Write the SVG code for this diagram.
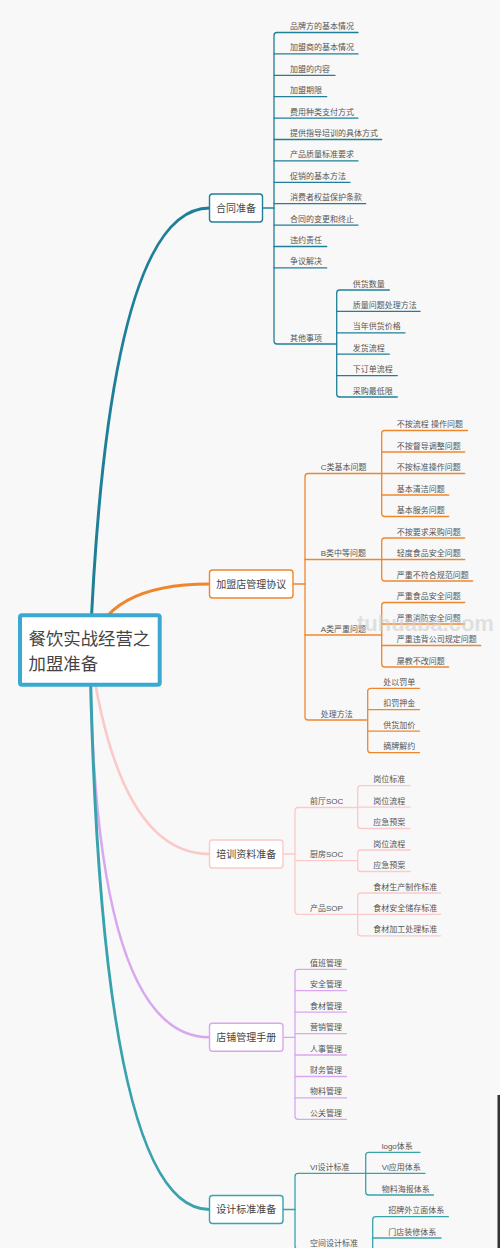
<svg xmlns="http://www.w3.org/2000/svg" width="500" height="1248" viewBox="0 0 500 1248">
<style>
text{font-family:"Liberation Sans","Noto Sans CJK SC",sans-serif;}
.leaf{font-size:8px;fill:#555;}
.nt{font-size:10px;fill:#444;text-anchor:middle;}
.rt{font-size:17.4px;fill:#444;}
.ln{fill:none;stroke-width:1.3;stroke-linecap:round;}
.cv{fill:none;stroke-linecap:round;}
.nb{fill:#fff;stroke-width:1.4;}
.c1{stroke:#1f7f99;} .c2{stroke:#f0862b;} .c3{stroke:#fcc9c9;} .c4{stroke:#d9a7ee;} .c5{stroke:#38a2ad;}
</style>
<rect width="500" height="1248" fill="#f8f8f8"/>
<rect x="497.5" y="1095" width="2.5" height="153" fill="#333"/>

<g id="connectors">
  <path class="cv c1" stroke-width="3" d="M90,650 Q108,208 209.5,208"/>
  <path class="cv c2" stroke-width="3" d="M90,650 Q104.7,584 209.5,584"/>
  <path class="cv c3" stroke-width="2.6" d="M90,650 Q118,854 209.5,854"/>
  <path class="cv c4" stroke-width="2.6" d="M90,650 Q93,1037.3 209.5,1037.3"/>
  <path class="cv c5" stroke-width="3" d="M90,650 Q100,1209.5 209.5,1209.5"/>

  <!-- branch 1 -->
  <g class="ln c1">
    <path d="M262.5,208 H274"/>
    <path d="M358,32.5 H277 Q274,32.5 274,35.5 V341 Q274,344 277,344 H336.7"/>
    <path d="M274,53.9 H358"/><path d="M274,75.3 H335"/><path d="M274,96.7 H326.7"/>
    <path d="M274,118.1 H358"/><path d="M274,139.5 H381.7"/><path d="M274,160.9 H358"/>
    <path d="M274,182.3 H350"/><path d="M274,203.7 H365.7"/><path d="M274,225.1 H358"/>
    <path d="M274,246.5 H326.7"/><path d="M274,267.9 H326.7"/>
    <path d="M389.3,290 H339.7 Q336.7,290 336.7,293 V394 Q336.7,397 339.7,397 H397.3"/>
    <path d="M336.7,311.4 H420"/><path d="M336.7,332.8 H405"/><path d="M336.7,354.2 H389.3"/><path d="M336.7,375.6 H397.3"/>
  </g>

  <!-- branch 2 -->
  <g class="ln c2">
    <path d="M293,584 H305"/>
    <path d="M381.7,473.5 H308 Q305,473.5 305,476.5 V717 Q305,720 308,720 H367.7"/>
    <path d="M305,559.5 H381.7"/><path d="M305,635 H381.7"/>
    <path d="M467.5,430.5 H384.7 Q381.7,430.5 381.7,433.5 V513.5 Q381.7,516.5 384.7,516.5 H448.7"/>
    <path d="M381.7,452 H464.7"/><path d="M381.7,473.5 H464.7"/><path d="M381.7,495 H448.7"/>
    <path d="M464.7,538 H384.7 Q381.7,538 381.7,541 V578 Q381.7,581 384.7,581 H472.7"/>
    <path d="M381.7,559.5 H464.7"/>
    <path d="M464.7,602.5 H384.7 Q381.7,602.5 381.7,605.5 V664 Q381.7,667 384.7,667 H448.7"/>
    <path d="M381.7,624 H464.7"/><path d="M381.7,645.5 H480.7"/>
    <path d="M419.5,688.3 H370.7 Q367.7,688.3 367.7,691.3 V749.7 Q367.7,752.7 370.7,752.7 H419.5"/>
    <path d="M367.7,709.7 H419.5"/><path d="M367.7,731.2 H419.5"/>
  </g>

  <!-- branch 3 -->
  <g class="ln c3">
    <path d="M283,854 H295"/>
    <path d="M357.7,807.5 H298 Q295,807.5 295,810.5 V911.3 Q295,914.3 298,914.3 H357.7"/>
    <path d="M295,860.7 H357.7"/>
    <path d="M410,785.7 H360.7 Q357.7,785.7 357.7,788.7 V825.5 Q357.7,828.5 360.7,828.5 H410"/>
    <path d="M357.7,807.2 H410"/>
    <path d="M410,850 H360.7 Q357.7,850 357.7,853 V868.5 Q357.7,871.5 360.7,871.5 H410"/>
    <path d="M440.5,893 H360.7 Q357.7,893 357.7,896 V932.8 Q357.7,935.8 360.7,935.8 H440.5"/>
    <path d="M357.7,914.4 H440.5"/>
  </g>

  <!-- branch 4 -->
  <g class="ln c4">
    <path d="M283,1037.3 H295"/>
    <path d="M346.5,969.3 H298 Q295,969.3 295,972.3 V1116.3 Q295,1119.3 298,1119.3 H346.5"/>
    <path d="M295,990.7 H346.5"/><path d="M295,1012.2 H346.5"/><path d="M295,1033.6 H346.5"/>
    <path d="M295,1055 H346.5"/><path d="M295,1076.5 H346.5"/><path d="M295,1097.9 H346.5"/>
  </g>

  <!-- branch 5 -->
  <g class="ln c5">
    <path d="M283,1209.5 H295"/>
    <path d="M365.7,1173.3 H298 Q295,1173.3 295,1176.3 V1246 Q295,1249 298,1249 H372.7"/>
    <path d="M420,1152.3 H368.7 Q365.7,1152.3 365.7,1155.3 V1192 Q365.7,1195 368.7,1195 H433.5"/>
    <path d="M365.7,1173.3 H425"/>
    <path d="M448.3,1216.7 H375.7 Q372.7,1216.7 372.7,1219.7 V1262"/>
    <path d="M372.7,1238 H441"/>
  </g>
</g>

<g id="root">
  <rect x="20" y="615.3" width="139.7" height="69.4" rx="2" fill="#fff" stroke="#3aa8d0" stroke-width="4"/>
  <text class="rt" x="28.5" y="645">餐饮实战经营之</text>
  <text class="rt" x="28.5" y="670">加盟准备</text>
</g>

<g id="n-hetong">
  <rect class="nb c1" x="209.5" y="194" width="53" height="28" rx="3"/>
  <text class="nt" x="236" y="211.5">合同准备</text>
  <g class="leaf">
    <text x="290" y="29">品牌方的基本情况</text>
    <text x="290" y="50.4">加盟商的基本情况</text>
    <text x="290" y="71.8">加盟的内容</text>
    <text x="290" y="93.2">加盟期限</text>
    <text x="290" y="114.6">费用种类支付方式</text>
    <text x="290" y="136">提供指导培训的具体方式</text>
    <text x="290" y="157.4">产品质量标准要求</text>
    <text x="290" y="178.8">促销的基本方法</text>
    <text x="290" y="200.2">消费者权益保护条款</text>
    <text x="290" y="221.6">合同的变更和终止</text>
    <text x="290" y="243">违约责任</text>
    <text x="290" y="264.4">争议解决</text>
    <text x="290" y="340.5">其他事项</text>
    <text x="352.7" y="286.5">供货数量</text>
    <text x="352.7" y="307.9">质量问题处理方法</text>
    <text x="352.7" y="329.3">当年供货价格</text>
    <text x="352.7" y="350.7">发货流程</text>
    <text x="352.7" y="372.1">下订单流程</text>
    <text x="352.7" y="393.5">采购最低限</text>
  </g>
</g>

<g id="n-guanli">
  <rect class="nb c2" x="209.5" y="570" width="83.5" height="28" rx="3"/>
  <text class="nt" x="251.2" y="587.5">加盟店管理协议</text>
  <g class="leaf">
    <text x="320.7" y="470">C类基本问题</text>
    <text x="320.7" y="556">B类中等问题</text>
    <text x="320.7" y="631.5">A类严重问题</text>
    <text x="320.7" y="716.5">处理方法</text>
    <text x="396.7" y="427">不按流程 操作问题</text>
    <text x="396.7" y="448.5">不按督导调整问题</text>
    <text x="396.7" y="470">不按标准操作问题</text>
    <text x="396.7" y="491.5">基本清洁问题</text>
    <text x="396.7" y="513">基本服务问题</text>
    <text x="396.7" y="534.5">不按要求采购问题</text>
    <text x="396.7" y="556">轻度食品安全问题</text>
    <text x="396.7" y="577.5">严重不符合规范问题</text>
    <text x="396.7" y="599">严重食品安全问题</text>
    <text x="396.7" y="620.5">严重消防安全问题</text>
    <text x="396.7" y="642">严重违背公司规定问题</text>
    <text x="396.7" y="663.5">屡教不改问题</text>
    <text x="383.3" y="684.8">处以罚单</text>
    <text x="383.3" y="706.2">扣罚押金</text>
    <text x="383.3" y="727.7">供货加价</text>
    <text x="383.3" y="749.2">摘牌解约</text>
  </g>
</g>

<g id="n-peixun">
  <rect class="nb c3" x="209.5" y="840" width="73.5" height="28" rx="3"/>
  <text class="nt" x="246.2" y="857.5">培训资料准备</text>
  <g class="leaf">
    <text x="310" y="804">前厅SOC</text>
    <text x="310" y="857.2">厨房SOC</text>
    <text x="310" y="910.8">产品SOP</text>
    <text x="373.3" y="782.2">岗位标准</text>
    <text x="373.3" y="803.7">岗位流程</text>
    <text x="373.3" y="825">应急预案</text>
    <text x="373.3" y="846.5">岗位流程</text>
    <text x="373.3" y="868">应急预案</text>
    <text x="373.3" y="889.5">食材生产制作标准</text>
    <text x="373.3" y="910.9">食材安全储存标准</text>
    <text x="373.3" y="932.3">食材加工处理标准</text>
  </g>
</g>

<g id="n-shouce">
  <rect class="nb c4" x="209.5" y="1023.3" width="73.5" height="28" rx="3"/>
  <text class="nt" x="246.2" y="1040.8">店铺管理手册</text>
  <g class="leaf">
    <text x="310" y="965.8">值班管理</text>
    <text x="310" y="987.2">安全管理</text>
    <text x="310" y="1008.7">食材管理</text>
    <text x="310" y="1030.1">营销管理</text>
    <text x="310" y="1051.5">人事管理</text>
    <text x="310" y="1073">财务管理</text>
    <text x="310" y="1094.4">物料管理</text>
    <text x="310" y="1115.8">公关管理</text>
  </g>
</g>

<g id="n-sheji">
  <rect class="nb c5" x="209.5" y="1195.5" width="73.5" height="28" rx="3"/>
  <text class="nt" x="246.2" y="1213">设计标准准备</text>
  <g class="leaf">
    <text x="310" y="1169.8">VI设计标准</text>
    <text x="310" y="1245.5">空间设计标准</text>
    <text x="381.7" y="1148.8">logo体系</text>
    <text x="381.7" y="1169.8">Vi应用体系</text>
    <text x="381.7" y="1191.5">物料海报体系</text>
    <text x="388.3" y="1213.2">招牌外立面体系</text>
    <text x="388.3" y="1234.5">门店装修体系</text>
  </g>
</g>

<text x="357" y="631" font-size="22" font-weight="bold" fill="#cfcfcf" fill-opacity="0.6">tuhuaba.com</text>
</svg>
